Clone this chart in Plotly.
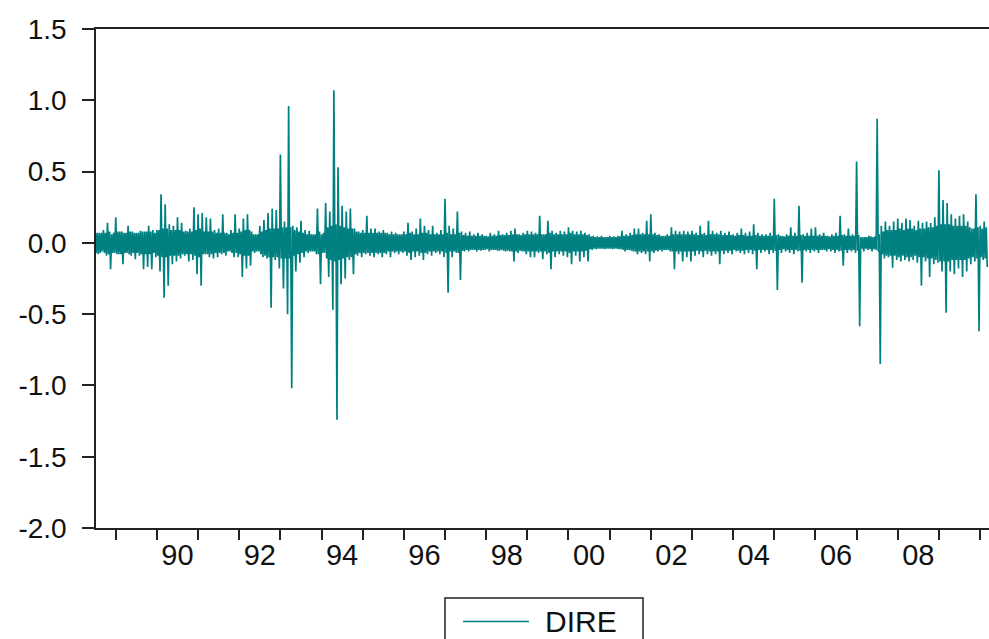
import plotly.graph_objects as go

# Series DIRE per 0.1-year bin starting 1988.5:
# high/low extremes of each bin, plus the half-height of the solid core band
start_year = 1988.5
bin_years = 0.1
dire_high = [
    0.08, 0.07, 0.09, 0.14, 0.06, 0.18, 0.08, 0.07, 0.12, 0.08,
    0.07, 0.085, 0.08, 0.12, 0.09, 0.09, 0.34, 0.27, 0.13, 0.12,
    0.18, 0.14, 0.085, 0.1, 0.25, 0.2, 0.21, 0.18, 0.17, 0.09,
    0.1, 0.2, 0.07, 0.09, 0.2, 0.1, 0.17, 0.2, 0.08, 0.06,
    0.12, 0.16, 0.21, 0.24, 0.23, 0.62, 0.15, 0.96, 0.12, 0.11,
    0.155, 0.09, 0.085, 0.06, 0.24, 0.06, 0.28, 0.22, 1.07, 0.53,
    0.26, 0.22, 0.24, 0.1, 0.08, 0.09, 0.19, 0.1, 0.1, 0.08,
    0.09, 0.07, 0.08, 0.07, 0.06, 0.08, 0.14, 0.08, 0.1, 0.17,
    0.12, 0.09, 0.12, 0.07, 0.09, 0.31, 0.12, 0.1, 0.22, 0.08,
    0.07, 0.08, 0.06, 0.07, 0.06, 0.05, 0.07, 0.06, 0.085, 0.06,
    0.07, 0.085, 0.1, 0.06, 0.07, 0.085, 0.08, 0.07, 0.19, 0.06,
    0.155, 0.085, 0.07, 0.085, 0.08, 0.11, 0.085, 0.08, 0.085, 0.07,
    0.06, 0.05, 0.045, 0.05, 0.04, 0.05, 0.045, 0.05, 0.085, 0.06,
    0.07, 0.1, 0.1, 0.07, 0.155, 0.2, 0.07, 0.06, 0.05, 0.06,
    0.11, 0.085, 0.08, 0.085, 0.08, 0.085, 0.07, 0.12, 0.07, 0.155,
    0.085, 0.07, 0.085, 0.07, 0.08, 0.06, 0.07, 0.1, 0.07, 0.08,
    0.13, 0.07, 0.06, 0.06, 0.07, 0.31, 0.06, 0.05, 0.06, 0.11,
    0.07, 0.26, 0.06, 0.07, 0.1, 0.11, 0.06, 0.07, 0.05, 0.06,
    0.07, 0.19, 0.06, 0.1, 0.06, 0.57, 0.04, 0.04, 0.05, 0.04,
    0.87, 0.12, 0.15, 0.12, 0.15, 0.17, 0.14, 0.17, 0.16, 0.12,
    0.155, 0.14, 0.15, 0.14, 0.18, 0.51, 0.3, 0.28, 0.2, 0.17,
    0.19, 0.2, 0.15, 0.1, 0.34, 0.12, 0.15,
]
dire_low = [
    -0.08, -0.06, -0.09, -0.185, -0.07, -0.08, -0.15, -0.07, -0.09, -0.115,
    -0.09, -0.185, -0.17, -0.185, -0.1, -0.2, -0.385, -0.3, -0.15, -0.13,
    -0.11, -0.09, -0.13, -0.12, -0.22, -0.3, -0.08, -0.1, -0.11, -0.1,
    -0.08, -0.09, -0.06, -0.1, -0.1, -0.24, -0.18, -0.16, -0.07, -0.06,
    -0.1, -0.11, -0.455, -0.12, -0.18, -0.32, -0.5, -1.02, -0.2, -0.14,
    -0.1, -0.07, -0.06, -0.08, -0.29, -0.07, -0.24, -0.47, -1.24, -0.29,
    -0.25, -0.12, -0.22, -0.09, -0.1, -0.08, -0.09, -0.1, -0.08, -0.1,
    -0.08, -0.1, -0.07, -0.08, -0.07, -0.09, -0.12, -0.1, -0.09, -0.12,
    -0.08, -0.09, -0.07, -0.08, -0.1, -0.35, -0.1, -0.07, -0.26, -0.06,
    -0.06, -0.05, -0.06, -0.055, -0.05, -0.06, -0.05, -0.055, -0.05, -0.06,
    -0.06, -0.13, -0.07, -0.06, -0.08, -0.1, -0.1, -0.07, -0.115, -0.08,
    -0.185, -0.1, -0.08, -0.09, -0.1, -0.15, -0.09, -0.13, -0.1, -0.13,
    -0.05, -0.045, -0.04, -0.045, -0.04, -0.045, -0.04, -0.045, -0.06, -0.05,
    -0.06, -0.08, -0.07, -0.08, -0.13, -0.07, -0.06, -0.06, -0.05, -0.06,
    -0.185, -0.08, -0.13, -0.1, -0.13, -0.09, -0.08, -0.1, -0.08, -0.09,
    -0.08, -0.15, -0.08, -0.07, -0.08, -0.06, -0.07, -0.08, -0.07, -0.08,
    -0.185, -0.07, -0.06, -0.08, -0.07, -0.33, -0.07, -0.06, -0.07, -0.08,
    -0.06, -0.28, -0.06, -0.07, -0.06, -0.07, -0.05, -0.06, -0.06, -0.07,
    -0.06, -0.16, -0.07, -0.06, -0.07, -0.585, -0.06, -0.05, -0.06, -0.05,
    -0.85, -0.11, -0.1, -0.175, -0.12, -0.13, -0.12, -0.13, -0.12, -0.14,
    -0.3, -0.13, -0.24, -0.15, -0.14, -0.2, -0.49, -0.2, -0.22, -0.18,
    -0.24, -0.2, -0.15, -0.13, -0.62, -0.12, -0.17,
]
dire_core = [
    0.07, 0.07, 0.07, 0.08, 0.07, 0.08, 0.08, 0.07, 0.08, 0.07,
    0.07, 0.08, 0.08, 0.08, 0.07, 0.09, 0.1, 0.1, 0.09, 0.09,
    0.09, 0.08, 0.08, 0.08, 0.09, 0.1, 0.08, 0.08, 0.08, 0.07,
    0.07, 0.07, 0.06, 0.07, 0.07, 0.08, 0.09, 0.09, 0.06, 0.06,
    0.08, 0.09, 0.1, 0.1, 0.1, 0.11, 0.11, 0.11, 0.09, 0.08,
    0.07, 0.06, 0.06, 0.06, 0.08, 0.07, 0.11, 0.12, 0.13, 0.12,
    0.11, 0.1, 0.1, 0.08, 0.07, 0.07, 0.07, 0.07, 0.07, 0.07,
    0.07, 0.06, 0.06, 0.06, 0.06, 0.06, 0.07, 0.06, 0.06, 0.07,
    0.07, 0.06, 0.06, 0.06, 0.06, 0.07, 0.06, 0.06, 0.07, 0.055,
    0.05, 0.05, 0.05, 0.05, 0.05, 0.045, 0.05, 0.05, 0.055, 0.055,
    0.055, 0.06, 0.06, 0.055, 0.06, 0.06, 0.06, 0.06, 0.06, 0.06,
    0.07, 0.06, 0.06, 0.06, 0.06, 0.07, 0.06, 0.06, 0.06, 0.055,
    0.045, 0.04, 0.04, 0.04, 0.04, 0.04, 0.04, 0.045, 0.05, 0.05,
    0.055, 0.06, 0.06, 0.06, 0.06, 0.06, 0.055, 0.05, 0.05, 0.05,
    0.06, 0.06, 0.06, 0.06, 0.06, 0.06, 0.055, 0.06, 0.055, 0.06,
    0.06, 0.06, 0.055, 0.055, 0.055, 0.05, 0.055, 0.055, 0.05, 0.05,
    0.055, 0.05, 0.05, 0.05, 0.05, 0.055, 0.05, 0.045, 0.05, 0.05,
    0.05, 0.055, 0.05, 0.05, 0.05, 0.05, 0.05, 0.05, 0.045, 0.05,
    0.05, 0.055, 0.05, 0.05, 0.05, 0.055, 0.04, 0.04, 0.045, 0.045,
    0.06, 0.08, 0.09, 0.09, 0.09, 0.1, 0.09, 0.1, 0.1, 0.09,
    0.1, 0.1, 0.11, 0.11, 0.12, 0.13, 0.13, 0.13, 0.12, 0.12,
    0.12, 0.12, 0.11, 0.1, 0.11, 0.1, 0.11,
]

y_tick_values = [1.5, 1.0, 0.5, 0.0, -0.5, -1.0, -1.5, -2.0]
y_tick_labels = ["1.5", "1.0", "0.5", "0.0", "-0.5", "-1.0", "-1.5", "-2.0"]
x_label_years = [1990, 1992, 1994, 1996, 1998, 2000, 2002, 2004, 2006, 2008]
x_tick_labels = ["90", "92", "94", "96", "98", "00", "02", "04", "06", "08"]
x_tick_years = list(range(1989, 2011))
series_name = "DIRE"

xs, ys = [], []
q = bin_years / 4
for i, (h, l, c) in enumerate(zip(dire_high, dire_low, dire_core)):
    t = start_year + bin_years * i
    xs += [t, t + q, t + 2 * q, t + 3 * q]
    ys += [h, -c, c, l]

LINE = "#008080"
AX = "#222222"
TXT = "#111111"
FONT = "Liberation Sans, Arial, sans-serif"

fig = go.Figure()
fig.add_trace(go.Scatter(x=xs, y=ys, mode="lines", name=series_name,
                         line=dict(color=LINE, width=1.7), showlegend=False))

fig.update_layout(
    width=989, height=639,
    margin=dict(l=96, r=0, t=29, b=111),
    paper_bgcolor="white", plot_bgcolor="white",
    font=dict(family=FONT, color=TXT),
    xaxis=dict(
        range=[1988.52, 2010.217],
        showgrid=False, zeroline=False,
        showline=True, mirror=True, linecolor=AX, linewidth=1.5,
        tickmode="array",
        tickvals=[y + 0.5 for y in x_label_years],
        ticktext=x_tick_labels,
        ticks="", ticklabelstandoff=0,
        tickfont=dict(size=29, family=FONT, color=TXT),
        minor=dict(tickmode="array", tickvals=x_tick_years, ticks="outside",
                   ticklen=10, tickwidth=1.5, tickcolor=AX, showgrid=False),
    ),
    yaxis=dict(
        range=[-2.0, 1.5],
        showgrid=False, zeroline=False,
        showline=True, mirror=False, linecolor=AX, linewidth=1.5,
        tickmode="array", tickvals=y_tick_values, ticktext=y_tick_labels,
        ticks="outside", ticklen=12, tickwidth=1.5, tickcolor=AX,
        ticklabelstandoff=10,
        tickfont=dict(size=28, family=FONT, color=TXT),
    ),
)

# Legend box (drawn manually to match the EViews look)
def px_x(p):
    return (p - 96) / 893.0

def px_y(p):
    return (528 - p) / 499.0

fig.add_shape(type="rect", xref="paper", yref="paper",
              x0=px_x(445), x1=px_x(643), y0=px_y(598), y1=px_y(660),
              line=dict(color=AX, width=1.5), fillcolor="white")
fig.add_shape(type="line", xref="paper", yref="paper",
              x0=px_x(463), x1=px_x(529), y0=px_y(621.5), y1=px_y(621.5),
              line=dict(color=LINE, width=1.5))
fig.add_annotation(xref="paper", yref="paper", x=px_x(543), y=px_y(621.5),
                   text=series_name, showarrow=False, xanchor="left", yanchor="middle",
                   font=dict(size=30, family=FONT, color=TXT))

fig.write_html("out.html")
